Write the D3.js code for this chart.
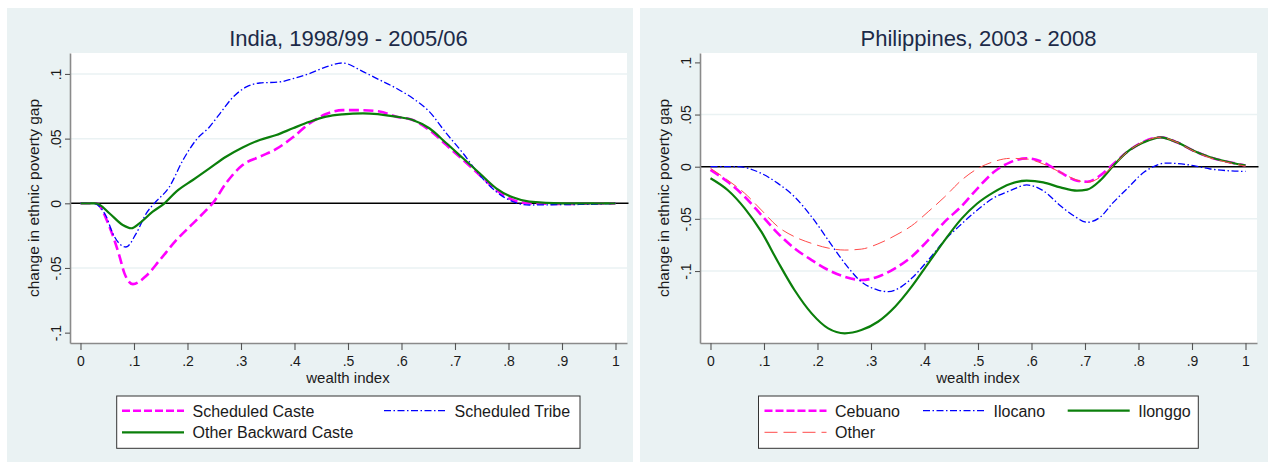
<!DOCTYPE html>
<html><head><meta charset="utf-8">
<script src="https://cdn.jsdelivr.net/npm/d3@7"></script>
<style>
body{margin:0;background:#fff;}
svg{display:block;font-family:"Liberation Sans",Arial,sans-serif;}
</style>
</head><body>
<svg id="chart" width="1270" height="464"></svg>
<script>
// ---------------- DATA ----------------
const indiaTitle = "India, 1998/99 - 2005/06";
const philTitle = "Philippines, 2003 - 2008";
const xAxisTitle = "wealth index";
const yAxisTitle = "change in ethnic poverty gap";

const xTicks = [0, 0.1, 0.2, 0.3, 0.4, 0.5, 0.6, 0.7, 0.8, 0.9, 1];
const xTickLabels = ["0", ".1", ".2", ".3", ".4", ".5", ".6", ".7", ".8", ".9", "1"];
const yTicks = [-0.1, -0.05, 0, 0.05, 0.1];
const yTickLabels = ["-.1", "-.05", "0", ".05", ".1"];

// India
const scX = [0, 0.029, 0.054, 0.073, 0.082, 0.098, 0.123, 0.148, 0.179, 0.21, 0.235, 0.247, 0.272, 0.303, 0.335, 0.366, 0.397, 0.428, 0.459, 0.49, 0.52, 0.559, 0.59, 0.621, 0.652, 0.684, 0.715, 0.746, 0.777, 0.808, 0.839, 0.9, 0.95, 1];
const scY = [0, 0, -0.018, -0.041, -0.054, -0.0625, -0.056, -0.044, -0.0285, -0.0157, -0.0053, 0, 0.0155, 0.0296, 0.036, 0.042, 0.051, 0.0617, 0.069, 0.072, 0.072, 0.071, 0.067, 0.0644, 0.0567, 0.045, 0.0335, 0.0219, 0.0103, 0.0026, 0, -0.0005, -0.0003, 0];

const stX = [0, 0.023, 0.048, 0.06, 0.085, 0.104, 0.123, 0.138, 0.166, 0.191, 0.216, 0.241, 0.26, 0.285, 0.31, 0.335, 0.372, 0.397, 0.428, 0.459, 0.49, 0.528, 0.559, 0.59, 0.621, 0.652, 0.684, 0.715, 0.746, 0.777, 0.808, 0.839, 0.9, 0.95, 1];
const stY = [0, 0, -0.01, -0.023, -0.0338, -0.0234, -0.0078, 0, 0.0126, 0.033, 0.0489, 0.059, 0.069, 0.082, 0.09, 0.093, 0.0938, 0.0964, 0.1003, 0.1054, 0.1085, 0.1018, 0.0954, 0.089, 0.0812, 0.0709, 0.054, 0.0387, 0.0219, 0.009, 0.0013, -0.0013, -0.001, -0.0008, 0];

const obcX = [0, 0.029, 0.054, 0.079, 0.095, 0.11, 0.135, 0.157, 0.179, 0.21, 0.241, 0.272, 0.303, 0.335, 0.366, 0.397, 0.428, 0.459, 0.49, 0.528, 0.59, 0.621, 0.652, 0.684, 0.715, 0.746, 0.777, 0.808, 0.839, 0.9, 1];
const obcY = [0, 0, -0.0077, -0.0168, -0.0193, -0.0155, -0.0065, 0, 0.009, 0.018, 0.027, 0.036, 0.0432, 0.049, 0.0528, 0.058, 0.063, 0.067, 0.0688, 0.0696, 0.067, 0.0644, 0.058, 0.0464, 0.0348, 0.0232, 0.0116, 0.0046, 0.0013, 0, 0];

// Philippines
const cebX = [0, 0.032, 0.064, 0.095, 0.126, 0.157, 0.189, 0.22, 0.251, 0.282, 0.313, 0.345, 0.376, 0.407, 0.438, 0.469, 0.498, 0.529, 0.56, 0.591, 0.622, 0.654, 0.685, 0.704, 0.728, 0.753, 0.778, 0.81, 0.841, 0.872, 0.903, 0.934, 0.966, 1];
const cebY = [-0.003, -0.0144, -0.0288, -0.0463, -0.0639, -0.0782, -0.0895, -0.099, -0.1055, -0.1086, -0.1055, -0.0974, -0.0863, -0.0703, -0.0527, -0.038, -0.0214, -0.0054, 0.0042, 0.008, 0.0042, -0.0054, -0.0134, -0.0144, -0.0086, 0.0026, 0.0138, 0.024, 0.0282, 0.0234, 0.0153, 0.009, 0.0048, 0.0012];

const iloX = [0, 0.051, 0.095, 0.126, 0.157, 0.189, 0.22, 0.251, 0.282, 0.313, 0.332, 0.357, 0.376, 0.407, 0.438, 0.469, 0.5, 0.529, 0.56, 0.591, 0.622, 0.654, 0.679, 0.704, 0.728, 0.753, 0.778, 0.81, 0.828, 0.85, 0.903, 0.934, 0.966, 1];
const iloY = [0, 0, -0.0064, -0.016, -0.0288, -0.048, -0.0703, -0.0926, -0.1103, -0.1182, -0.1198, -0.115, -0.107, -0.0895, -0.0703, -0.055, -0.041, -0.03, -0.023, -0.0175, -0.023, -0.0374, -0.047, -0.0533, -0.0485, -0.0342, -0.0214, -0.0054, 0, 0.0035, 0.001, -0.0022, -0.0038, -0.0045];

const ilgX = [0, 0.032, 0.064, 0.095, 0.126, 0.157, 0.189, 0.22, 0.251, 0.282, 0.313, 0.345, 0.376, 0.407, 0.438, 0.469, 0.498, 0.529, 0.56, 0.591, 0.622, 0.654, 0.685, 0.704, 0.728, 0.753, 0.778, 0.81, 0.841, 0.872, 0.903, 0.934, 0.966, 1];
const ilgY = [-0.011, -0.0223, -0.0399, -0.0623, -0.0911, -0.1182, -0.1406, -0.155, -0.1597, -0.1566, -0.1486, -0.1342, -0.115, -0.0926, -0.0703, -0.05, -0.0355, -0.0246, -0.0166, -0.0134, -0.015, -0.0198, -0.023, -0.022, -0.0134, 0.001, 0.0138, 0.0234, 0.0282, 0.0234, 0.0153, 0.009, 0.0048, 0.0012];

const othX = [0, 0.032, 0.064, 0.095, 0.126, 0.157, 0.189, 0.22, 0.251, 0.282, 0.313, 0.345, 0.376, 0.407, 0.438, 0.469, 0.498, 0.529, 0.56, 0.591, 0.622, 0.654, 0.685, 0.704, 0.728, 0.753, 0.778, 0.81, 0.841, 0.872, 0.903, 0.934, 0.966, 1];
const othY = [-0.0015, -0.0128, -0.0255, -0.0415, -0.0575, -0.0671, -0.0735, -0.078, -0.0799, -0.079, -0.074, -0.066, -0.0566, -0.0431, -0.0288, -0.013, -0.0022, 0.0048, 0.008, 0.0074, 0.0026, -0.0054, -0.0128, -0.015, -0.0102, 0.001, 0.0138, 0.024, 0.0282, 0.0234, 0.015, 0.0085, 0.0042, 0.0005];

const indiaNames = ["Scheduled Caste", "Scheduled Tribe", "Other Backward Caste"];
const philNames = ["Cebuano", "Ilocano", "Ilonggo", "Other"];

// ---------------- STYLES ----------------
const BG = "#eaf2f3";
const styles = {
  mag:  {stroke: "#ff00ff", width: 2.6, dash: "10,4.5", legDash: "8,3"},
  blue: {stroke: "#0000ff", width: 1.3, dash: "7,2.5,1.5,2.5", legDash: "7,2.5,1.5,2.5"},
  grn:  {stroke: "#0b7f0b", width: 2.2, dash: null, legDash: null},
  red:  {stroke: "#ff4a4a", width: 1.0, dash: "13,6", legDash: "13,6"}
};

const svg = d3.select("#chart");

function zip(xs, ys) { return xs.map((x, i) => ({x: x, y: ys[i]})); }

const panels = [
  {
    ox: 0, bg: [7, 633], title: indiaTitle, yDomain: [-0.108, 0.1162], zeroY: 203.3,
    grid: [0.1, 0.05, -0.05],
    series: [
      {name: indiaNames[0], data: zip(scX, scY), st: styles.mag},
      {name: indiaNames[1], data: zip(stX, stY), st: styles.blue},
      {name: indiaNames[2], data: zip(obcX, obcY), st: styles.grn}
    ],
    legend: {box: [116.7, 580], keys: [[122, 0], [384, 0], [122, 1]]}
  },
  {
    ox: 630, bg: [640, 1268], title: philTitle, yDomain: [-0.169, 0.109],
    grid: [0.05, -0.05, -0.1],
    series: [
      {name: philNames[0], data: zip(cebX, cebY), st: styles.mag},
      {name: philNames[1], data: zip(iloX, iloY), st: styles.blue},
      {name: philNames[2], data: zip(ilgX, ilgY), st: styles.grn},
      {name: philNames[3], data: zip(othX, othY), st: styles.red}
    ],
    legend: {box: [128.5, 568.3], keys: [[134.5, 0], [293, 0], [437.7, 0], [134.5, 1]]}
  }
];

const PL = 70, PR = 627, PT = 53, PB = 343;

panels.forEach((p, pi) => {
  // background of subgraph
  svg.append("rect").attr("x", p.bg[0]).attr("y", 8)
    .attr("width", p.bg[1] - p.bg[0]).attr("height", 454).attr("fill", BG);

  const g = svg.append("g").attr("transform", `translate(${p.ox},0)`);
  const x = d3.scaleLinear().domain([-0.0196, 1.0215]).range([PL, PR]);
  const y = d3.scaleLinear().domain(p.yDomain).range([PB, PT]);

  g.append("rect").attr("x", PL).attr("y", PT).attr("width", PR - PL).attr("height", PB - PT).attr("fill", "#fff");

  // gridlines
  g.selectAll(".grid").data(p.grid).enter().append("line")
    .attr("x1", PL).attr("x2", PR).attr("y1", d => y(d)).attr("y2", d => y(d))
    .attr("stroke", BG).attr("stroke-width", 1.5);

  // zero reference line
  g.append("line").attr("x1", PL + 1).attr("x2", PR + 1.5).attr("y1", y(0)).attr("y2", y(0))
    .attr("stroke", "#000").attr("stroke-width", 1.4);

  const clipId = "clip" + pi;
  g.append("clipPath").attr("id", clipId).append("rect")
    .attr("x", PL).attr("y", PT).attr("width", PR - PL + 2).attr("height", PB - PT);

  const line = d3.line().x(d => x(d.x)).y(d => y(d.y)).curve(d3.curveMonotoneX);
  p.series.forEach(s => {
    g.append("path").attr("d", line(s.data)).attr("fill", "none")
      .attr("clip-path", `url(#${clipId})`)
      .attr("stroke", s.st.stroke).attr("stroke-width", s.st.width)
      .attr("stroke-dasharray", s.st.dash).attr("stroke-linejoin", "round");
  });

  // axes
  const xAxis = d3.axisBottom(x).tickValues(xTicks).tickFormat((d, i) => xTickLabels[i])
    .tickSizeInner(7).tickSizeOuter(0).tickPadding(6);
  const xa = g.append("g").attr("transform", `translate(0,${PB})`).call(xAxis);
  xa.select(".domain").attr("stroke", "#8a8a8a").attr("stroke-width", 1.6);
  xa.selectAll(".tick line").attr("stroke", "#555").attr("stroke-width", 1.1);
  xa.selectAll(".tick text").attr("font-size", 14).attr("fill", "#1a1a1a")
    .attr("font-family", '"Liberation Sans",Arial,sans-serif');

  const yAxis = d3.axisLeft(y).tickValues(yTicks).tickFormat((d, i) => yTickLabels[i])
    .tickSizeInner(5).tickSizeOuter(0);
  const ya = g.append("g").attr("transform", `translate(${PL},0)`).call(yAxis);
  ya.select(".domain").attr("stroke", "#8a8a8a").attr("stroke-width", 1.6);
  ya.selectAll(".tick line").attr("stroke", "#555").attr("stroke-width", 1.1);
  ya.selectAll(".tick text").attr("font-size", 14).attr("fill", "#1a1a1a")
    .attr("font-family", '"Liberation Sans",Arial,sans-serif')
    .attr("x", null).attr("dy", null)
    .attr("text-anchor", "middle")
    .attr("transform", "translate(-9.5,0) rotate(-90)");

  // axis titles
  g.append("text").attr("x", (x(0) + x(1)) / 2).attr("y", 382.7).attr("text-anchor", "middle")
    .attr("font-size", 15).attr("fill", "#1a1a1a").text(xAxisTitle);
  g.append("text").attr("transform", `translate(39,${(PT + PB) / 2}) rotate(-90)`)
    .attr("text-anchor", "middle").attr("font-size", 15.5).attr("fill", "#1a1a1a").text(yAxisTitle);

  // title
  g.append("text").attr("x", (PL + PR) / 2).attr("y", 45.7).attr("text-anchor", "middle")
    .attr("font-size", 22).attr("fill", "#1c2a48").text(p.title);

  // legend
  const L = p.legend;
  g.append("rect").attr("x", L.box[0]).attr("y", 396).attr("width", L.box[1] - L.box[0]).attr("height", 52.3)
    .attr("fill", "#fff").attr("stroke", "#333").attr("stroke-width", 1);
  const rowBase = [416.7, 438.3];
  p.series.forEach((s, i) => {
    const kx = L.keys[i][0], row = L.keys[i][1];
    const ky = rowBase[row] - 6;
    g.append("line").attr("x1", kx).attr("x2", kx + 62).attr("y1", ky).attr("y2", ky)
      .attr("stroke", s.st.stroke).attr("stroke-width", s.st.width)
      .attr("stroke-dasharray", s.st.legDash);
    g.append("text").attr("x", kx + 70.5).attr("y", rowBase[row]).attr("font-size", 16)
      .attr("fill", "#1a1a1a").text(s.name);
  });
});
</script>
</body></html>
